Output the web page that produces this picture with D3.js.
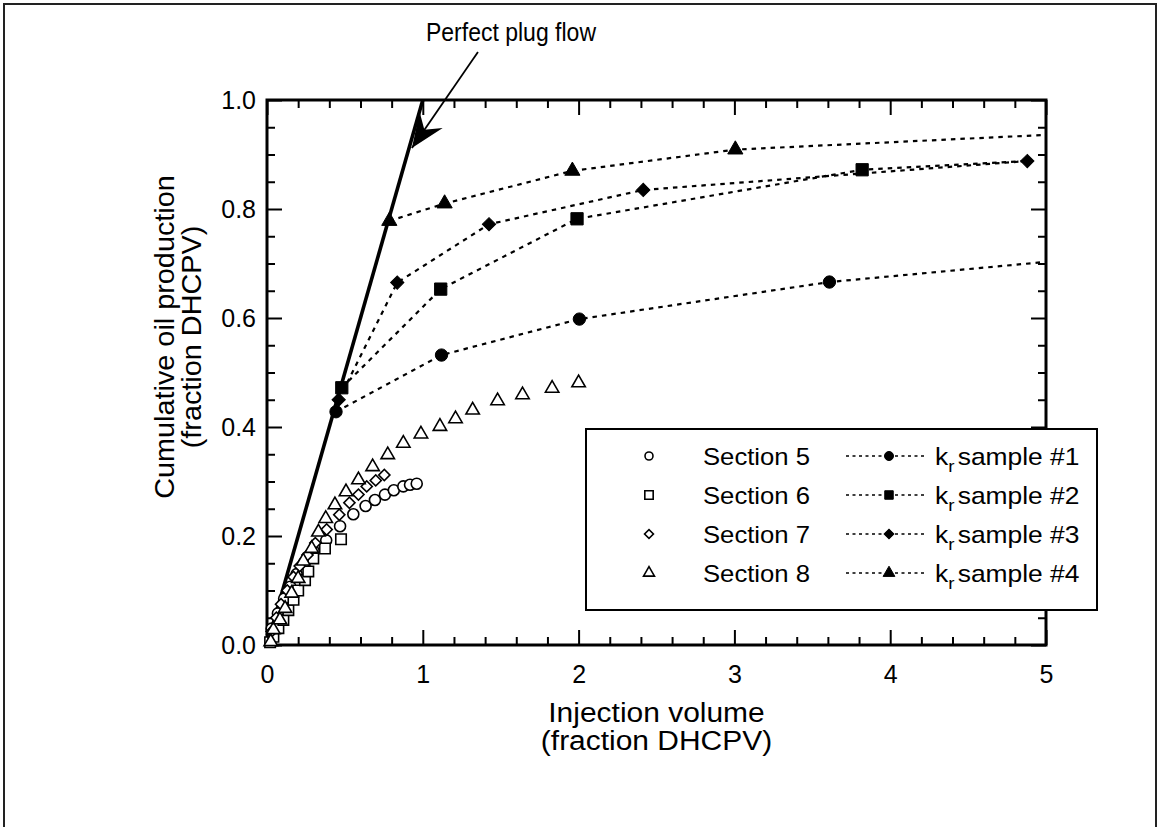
<!DOCTYPE html>
<html><head><meta charset="utf-8">
<script src="https://cdn.jsdelivr.net/npm/d3@7"></script>
<style>
body{margin:0;background:#fff}
svg{display:block}
text{font-family:"Liberation Sans",Arial,Helvetica,sans-serif;fill:#000}
</style>
</head><body>
<svg id="c" width="1160" height="827"></svg>
<script>
// ---------- data ----------
const xTickValues = [0, 1, 2, 3, 4, 5];
const xTickLabels = ["0", "1", "2", "3", "4", "5"];
const yTickValues = [0, 0.2, 0.4, 0.6, 0.8, 1.0];
const yTickLabels = ["0.0", "0.2", "0.4", "0.6", "0.8", "1.0"];
const xTitle = ["Injection volume", "(fraction DHCPV)"];
const yTitle = ["Cumulative oil production", "(fraction DHCPV)"];

// Perfect plug flow line
const plugX = [0, 1];
const plugY = [0, 1];
const plugLabel = "Perfect plug flow";
const plugLabelPos = [1.566, 1.108];   // data units (label centre / baseline)
const arrowFrom = [1.354, 1.088];
const arrowTo = [0.93, 0.912];

// Open symbols: sections
const sec5X = [0.03, 0.07, 0.11, 0.15, 0.19, 0.24, 0.30, 0.38, 0.469, 0.554, 0.633, 0.693, 0.757, 0.814, 0.875, 0.918, 0.961];
const sec5Y = [0.03, 0.058, 0.085, 0.107, 0.13, 0.152, 0.172, 0.192, 0.218, 0.240, 0.255, 0.266, 0.276, 0.284, 0.291, 0.294, 0.296];
const sec6X = [0.02, 0.041, 0.073, 0.105, 0.137, 0.17, 0.2, 0.244, 0.265, 0.297, 0.372, 0.475];
const sec6Y = [0.005, 0.015, 0.031, 0.046, 0.064, 0.083, 0.1, 0.119, 0.135, 0.159, 0.177, 0.194];
const sec7X = [0.03, 0.06, 0.09, 0.13, 0.17, 0.21, 0.26, 0.31, 0.383, 0.464, 0.529, 0.587, 0.64, 0.698, 0.753];
const sec7Y = [0.025, 0.05, 0.075, 0.1, 0.125, 0.145, 0.165, 0.187, 0.212, 0.239, 0.261, 0.276, 0.291, 0.302, 0.312];
const sec8X = [0.024, 0.041, 0.083, 0.116, 0.158, 0.2, 0.233, 0.287, 0.33, 0.377, 0.436, 0.507, 0.587, 0.678, 0.775, 0.875, 0.988, 1.11, 1.21, 1.32, 1.48, 1.64, 1.83, 2.0];
const sec8Y = [0.006, 0.028, 0.046, 0.067, 0.095, 0.122, 0.154, 0.177, 0.207, 0.232, 0.257, 0.281, 0.303, 0.327, 0.349, 0.370, 0.387, 0.401, 0.415, 0.431, 0.448, 0.459, 0.471, 0.481];

// Filled symbols: kr samples (measured points)
const kr1X = [0.443, 1.12, 2.005, 3.61];
const kr1Y = [0.428, 0.532, 0.598, 0.666];
const kr2X = [0.48, 1.115, 1.99, 3.82];
const kr2Y = [0.472, 0.653, 0.782, 0.872];
const kr3X = [0.46, 0.836, 1.425, 2.415, 4.88];
const kr3Y = [0.45, 0.665, 0.772, 0.835, 0.888];
const kr4X = [0.785, 1.14, 1.96, 3.006];
const kr4Y = [0.778, 0.810, 0.870, 0.909];
// where each dotted curve ends (null = ends at last point)
const krTailX = [5.0, 4.88, null, 5.0];
const krTailY = [0.703, 0.888, null, 0.936];

const secLabels = ["Section 5", "Section 6", "Section 7", "Section 8"];
const krLabels = ["sample #1", "sample #2", "sample #3", "sample #4"];

// ---------- drawing ----------
const svg = d3.select("#c");
const x = d3.scaleLinear().domain([0, 5]).range([267, 1046]);
const y = d3.scaleLinear().domain([0, 1]).range([645, 100]);

// page frame
svg.append("rect").attr("x", 4).attr("y", 4).attr("width", 1152).attr("height", 850)
  .attr("fill", "none").attr("stroke", "#222").attr("stroke-width", 2);

function stretchedText(parent, px, py, str, size, anchor, sx, rot) {
  const t = parent.append("text")
    .attr("transform", `translate(${px},${py})` + (rot ? ` rotate(${rot})` : "") + ` scale(${sx},1)`)
    .attr("font-size", size).attr("text-anchor", anchor);
  if (str !== null) t.text(str);
  return t;
}

const xMinor = d3.range(0, 5.0001, 0.2).filter(v => Math.abs(v - Math.round(v)) > 1e-6);
const yMinor = d3.range(0, 1.0001, 0.05).filter(v => Math.abs(v * 5 - Math.round(v * 5)) > 1e-6);

function styleAxis(g) {
  g.select(".domain").remove();
  g.selectAll(".tick line").attr("stroke", "#000").attr("stroke-width", 2);
  g.selectAll("text").attr("font-size", 25).attr("font-family", '"Liberation Sans",Arial,sans-serif').attr("fill", "#000");
}

// bottom
svg.append("g").attr("transform", "translate(0,645)")
  .call(d3.axisBottom(x).tickValues(xTickValues).tickFormat((d, i) => xTickLabels[i]).tickSizeInner(-15).tickSizeOuter(0).tickPadding(20))
  .call(styleAxis);
svg.append("g").attr("transform", "translate(0,645)")
  .call(d3.axisBottom(x).tickValues(xMinor).tickFormat("").tickSizeInner(-8).tickSizeOuter(0))
  .call(styleAxis);
// top
svg.append("g").attr("transform", "translate(0,100)")
  .call(d3.axisTop(x).tickValues(xTickValues).tickFormat("").tickSizeInner(-15).tickSizeOuter(0))
  .call(styleAxis);
svg.append("g").attr("transform", "translate(0,100)")
  .call(d3.axisTop(x).tickValues(xMinor).tickFormat("").tickSizeInner(-8).tickSizeOuter(0))
  .call(styleAxis);
// left
svg.append("g").attr("transform", "translate(267,0)")
  .call(d3.axisLeft(y).tickValues(yTickValues).tickFormat((d, i) => yTickLabels[i]).tickSizeInner(-15).tickSizeOuter(0).tickPadding(11))
  .call(styleAxis);
svg.append("g").attr("transform", "translate(267,0)")
  .call(d3.axisLeft(y).tickValues(yMinor).tickFormat("").tickSizeInner(-8).tickSizeOuter(0))
  .call(styleAxis);
// right
svg.append("g").attr("transform", "translate(1046,0)")
  .call(d3.axisRight(y).tickValues(yTickValues).tickFormat("").tickSizeInner(-15).tickSizeOuter(0))
  .call(styleAxis);
svg.append("g").attr("transform", "translate(1046,0)")
  .call(d3.axisRight(y).tickValues(yMinor).tickFormat("").tickSizeInner(-8).tickSizeOuter(0))
  .call(styleAxis);

// plot frame
svg.append("rect").attr("x", x(0)).attr("y", y(1)).attr("width", x(5) - x(0)).attr("height", y(0) - y(1))
  .attr("fill", "none").attr("stroke", "#000").attr("stroke-width", 3);

// axis titles
stretchedText(svg, (x(0) + x(5)) / 2, 722, xTitle[0], 28, "middle", 1.07);
stretchedText(svg, (x(0) + x(5)) / 2, 750, xTitle[1], 28, "middle", 1.07);
stretchedText(svg, 174, 337, yTitle[0], 28, "middle", 1.03, -90);
stretchedText(svg, 201, 337, yTitle[1], 28, "middle", 1.03, -90);

// dotted curves
const krX = [kr1X, kr2X, kr3X, kr4X];
const krY = [kr1Y, kr2Y, kr3Y, kr4Y];
const line = d3.line().x(d => x(d[0])).y(d => y(d[1])).curve(d3.curveLinear);
krX.forEach((xs, k) => {
  const pts = xs.map((v, i) => [v, krY[k][i]]);
  if (krTailX[k] !== null && krTailX[k] > xs[xs.length - 1] + 1e-9) pts.push([krTailX[k], krTailY[k]]);
  svg.append("path").attr("d", line(pts)).attr("fill", "none").attr("stroke", "#000")
    .attr("stroke-width", 2.2).attr("stroke-dasharray", "4.5,5");
});

// plug flow line
svg.append("path").attr("d", d3.line().x(d => x(d[0])).y(d => y(d[1]))(plugX.map((v, i) => [v, plugY[i]])))
  .attr("stroke", "#000").attr("stroke-width", 3.6).attr("fill", "none");

// symbols
const shapes = {
  circle: d3.symbolCircle, square: d3.symbolSquare, diamond: d3.symbolSquare, triangle: d3.symbolTriangle
};
function drawSym(parent, px, py, shape, size, filled) {
  parent.append("path")
    .attr("d", d3.symbol().type(shapes[shape]).size(size)())
    .attr("transform", `translate(${px},${py})` + (shape === "diamond" ? " rotate(45)" : ""))
    .attr("fill", filled ? "#000" : "#fff")
    .attr("stroke", "#000").attr("stroke-width", filled ? 1 : 1.6);
}
const openSizes = {circle: 95, square: 110, diamond: 62, triangle: 78};
const fillSizes = {circle: 120, square: 150, diamond: 88, triangle: 100};
const secX = [sec5X, sec6X, sec7X, sec8X];
const secY = [sec5Y, sec6Y, sec7Y, sec8Y];
const shapeOrder = ["circle", "square", "diamond", "triangle"];
secX.forEach((xs, k) => xs.forEach((v, i) => drawSym(svg, x(v), y(secY[k][i]), shapeOrder[k], openSizes[shapeOrder[k]], false)));
krX.forEach((xs, k) => xs.forEach((v, i) => drawSym(svg, x(v), y(krY[k][i]), shapeOrder[k], fillSizes[shapeOrder[k]], true)));

// annotation arrow
const ax0 = x(arrowFrom[0]), ay0 = y(arrowFrom[1]), ax1 = x(arrowTo[0]), ay1 = y(arrowTo[1]);
svg.append("line").attr("x1", ax0).attr("y1", ay0).attr("x2", ax1).attr("y2", ay1)
  .attr("stroke", "#000").attr("stroke-width", 1.8);
{
  const dx = ax1 - ax0, dy = ay1 - ay0, L = Math.hypot(dx, dy);
  const ux = dx / L, uy = dy / L, nx = -uy, ny = ux;
  const hl = 34, hw = 14, notch = 22;
  const p = [
    [ax1, ay1],
    [ax1 - hl * ux + hw * nx, ay1 - hl * uy + hw * ny],
    [ax1 - notch * ux, ay1 - notch * uy],
    [ax1 - hl * ux - hw * nx, ay1 - hl * uy - hw * ny]
  ];
  svg.append("path").attr("d", "M" + p.map(q => q.join(",")).join("L") + "Z").attr("fill", "#000");
}
stretchedText(svg, x(plugLabelPos[0]), y(plugLabelPos[1]), plugLabel, 25, "middle", 0.92);

// legend
const lg = svg.append("g");
lg.append("rect").attr("x", 586).attr("y", 429).attr("width", 511).attr("height", 181)
  .attr("fill", "#fff").attr("stroke", "#000").attr("stroke-width", 2);
const legOpen = {circle: 50, square: 70, diamond: 40, triangle: 52};
const legFill = {circle: 64, square: 72, diamond: 48, triangle: 60};
secLabels.forEach((lab, i) => {
  const cy = 456 + i * 39;
  drawSym(lg, 649, cy, shapeOrder[i], legOpen[shapeOrder[i]], false);
  stretchedText(lg, 703, cy + 9, lab, 24, "start", 1.07);
  lg.append("line").attr("x1", 846).attr("x2", 884).attr("y1", cy).attr("y2", cy)
    .attr("stroke", "#000").attr("stroke-width", 1.6).attr("stroke-dasharray", "3,3.5");
  lg.append("line").attr("x1", 895).attr("x2", 925).attr("y1", cy).attr("y2", cy)
    .attr("stroke", "#000").attr("stroke-width", 1.6).attr("stroke-dasharray", "3,3.5");
  drawSym(lg, 889, cy, shapeOrder[i], legFill[shapeOrder[i]], true);
  const t = stretchedText(lg, 935, cy + 9, null, 24, "start", 1.1);
  t.append("tspan").text("k");
  t.append("tspan").attr("font-size", 17).attr("dy", 7).text("r");
  t.append("tspan").attr("dy", -7).attr("dx", 3).text(krLabels[i]);
});
</script>
</body></html>
